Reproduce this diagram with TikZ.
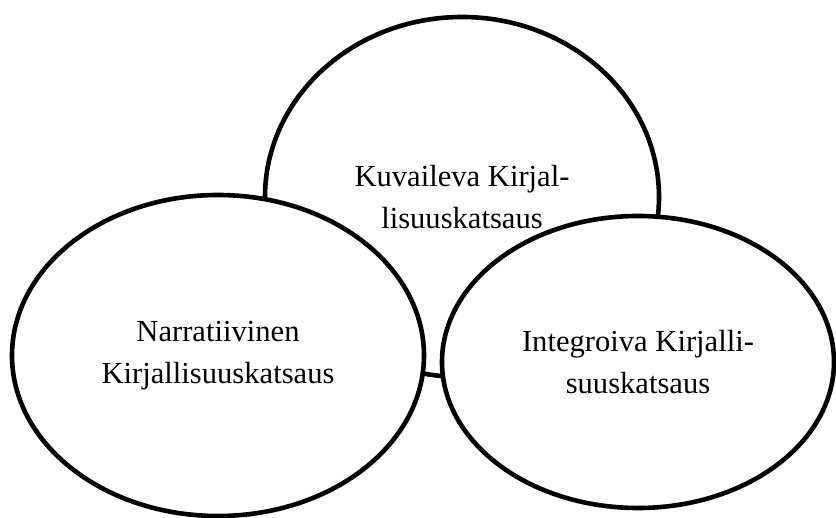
\documentclass[tikz,border=0pt]{standalone}
\usepackage{fontspec}
\setmainfont{Liberation Serif}
\usetikzlibrary{shapes.geometric}

\begin{document}
\begin{tikzpicture}[x=1pt, y=-1pt,
    review/.style={
        ellipse, draw=black, line width=4.6pt, fill=white,
        inner sep=0pt, align=center,
        font=\fontsize{30.6}{42}\selectfont
    },
]
    \useasboundingbox (0,0) rectangle (836,518);

    % --- kolme katsaustyyppiä ---
    \node[review, minimum width=394pt, minimum height=360pt] (kuvaileva)
        at (462,197) {Kuvaileva Kirjal-\\lisuuskatsaus};
    \node[review, minimum width=412pt, minimum height=321pt] (narratiivinen)
        at (218,355.5) {Narratiivinen\\Kirjallisuuskatsaus};
    \node[review, minimum width=392pt, minimum height=292pt] (integroiva)
        at (638,362) {Integroiva Kirjalli-\\suuskatsaus};

\end{tikzpicture}
\end{document}
